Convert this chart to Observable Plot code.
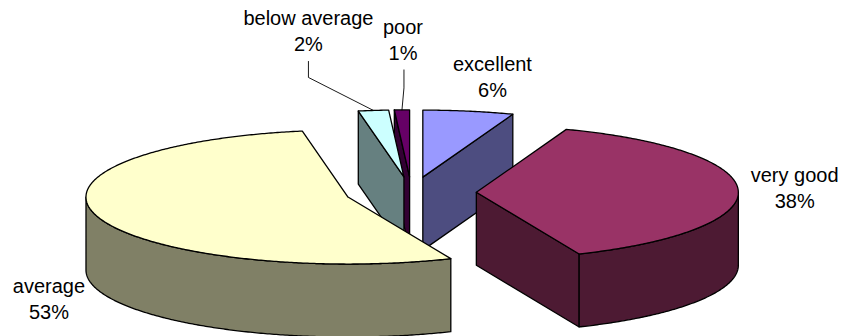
<!DOCTYPE html>
<html>
<head>
<meta charset="utf-8">
<script src="https://cdn.jsdelivr.net/npm/d3@7"></script>
<script src="https://cdn.jsdelivr.net/npm/@observablehq/plot@0.6"></script>
<style>
  html, body { margin: 0; padding: 0; background: #fff; }
  svg { display: block; }
</style>
</head>
<body>
<div id="chart"></div>
<script>
// Ratings, in pie order (clockwise from twelve o'clock).
const ratings = ["excellent", "very good", "average", "below average", "poor"];
const shares = [6, 38, 53, 2, 1];
const topColors = ["#9999ff", "#993366", "#ffffcc", "#ccffff", "#660066"];
const wallColors = ["#4d4d80", "#4d1a33", "#808066", "#668080", "#330033"];

// Tilted-pie geometry, in the chart's own units. Perspective pulls the rim's
// angles slightly toward the back of the ellipse on both sides.
const hub = {x: 411, y: 193};
const radiusX = 262, radiusY = 67, depth = 73, explode = 65, perspectiveDeg = 4.1;

// Where each label sits, relative to the rim point at the middle of its slice,
// and the leaders of the two slices too thin to hold a label nearby.
const labelOffsets = [
  {dx: 24, dy: -35}, {dx: 57, dy: -1}, {dx: -43, dy: 86}, {dx: -65, dy: -81}, {dx: 1, dy: -71}
];
const leaderShapes = [
  null, null, null,
  {elbowDx: -65, elbowDy: -33, stub: 16},
  {elbowDx: 2, elbowDy: -22, stub: 18}
];

const rad = (deg) => (deg * Math.PI) / 180;
const projected = (deg) => deg - perspectiveDeg * Math.sin(rad(deg));

// Cumulative sweep of every slice, in degrees clockwise from the top.
let running = 0;
const slices = ratings.map((name, i) => {
  const a0 = projected((running / 100) * 360);
  const midShare = running + shares[i] / 2;
  running += shares[i];
  const a1 = projected((running / 100) * 360);
  const mid = projected((midShare / 100) * 360);
  const center = {
    x: hub.x + explode * Math.sin(rad(mid)),
    y: hub.y - explode * Math.cos(rad(mid)) * (radiusY / radiusX)
  };
  const rim = (a) => ({
    x: center.x + radiusX * Math.sin(rad(a)),
    y: center.y - radiusY * Math.cos(rad(a))
  });
  return {name, share: shares[i], a0, a1, mid, center, rim, top: topColors[i], wall: wallColors[i], i};
});

const arc = (s, from, to) => d3.range(from, to, 0.5).concat(to).map(s.rim);
const drop = (p) => ({x: p.x, y: p.y + depth});
const closed = (pts) => pts.concat(pts[0]);

// A flat polygon drawn as a filled, outlined line.
const face = (pts, fill) =>
  Plot.line(closed(pts), {
    x: "x", y: "y", fill, stroke: "#000", strokeWidth: 1.3,
    strokeLinejoin: "round", curve: "linear"
  });

// Walls that turn toward the viewer, followed by the slice's top surface.
function sliceMarks(s) {
  const marks = [];
  const {a0, a1, center} = s;
  // Radial cut at the slice's start: visible when its outward side points down the page.
  if (Math.cos(rad(a0 - 90)) < 0) {
    const p = s.rim(a0);
    marks.push(face([center, p, drop(p), drop(center)], s.wall));
  }
  // Radial cut at the slice's end.
  if (Math.cos(rad(a1 + 90)) < 0) {
    const p = s.rim(a1);
    marks.push(face([center, p, drop(p), drop(center)], s.wall));
  }
  // Curved outer wall: only the front half of the rim shows.
  const from = Math.max(a0, 90), to = Math.min(a1, 270);
  if (from < to) {
    const edge = arc(s, from, to);
    marks.push(face(edge.concat(edge.map(drop).reverse()), s.wall));
  }
  marks.push(face([center, ...arc(s, a0, a1)], s.top));
  return marks;
}

// Painter's order: thin rear slices first, the large front ones over them.
const paintOrder = [4, 3, 0, 2, 1];
const pieMarks = paintOrder.flatMap((i) => sliceMarks(slices[i]));

const labels = slices.map((s, i) => {
  const r = s.rim(s.mid);
  return {
    text: `${s.name}\n${s.share}%`,
    x: r.x + labelOffsets[i].dx,
    y: r.y + labelOffsets[i].dy
  };
});

const leaderMarks = slices.filter((s, i) => leaderShapes[i]).map((s) => {
  const r = s.rim(s.mid);
  const shape = leaderShapes[s.i];
  const elbow = {x: r.x + shape.elbowDx, y: r.y + shape.elbowDy};
  const end = {x: elbow.x, y: elbow.y - shape.stub};
  return Plot.line([r, elbow, end], {x: "x", y: "y", stroke: "#000", strokeWidth: 0.9});
});

const chart = Plot.plot({
  width: 845,
  height: 336,
  margin: 0,
  x: {domain: [0, 845], range: [0, 845], axis: null},
  y: {domain: [0, 336], range: [0, 336], axis: null},
  style: {background: "#fff"},
  marks: [
    ...pieMarks,
    ...leaderMarks,
    Plot.text(labels, {
      x: "x", y: "y", text: "text",
      fontFamily: "Liberation Sans, Arial, sans-serif",
      fontSize: 20, lineHeight: 1.3, fill: "#000", textAnchor: "middle"
    })
  ]
});
document.getElementById("chart").append(chart);
</script>
</body>
</html>
